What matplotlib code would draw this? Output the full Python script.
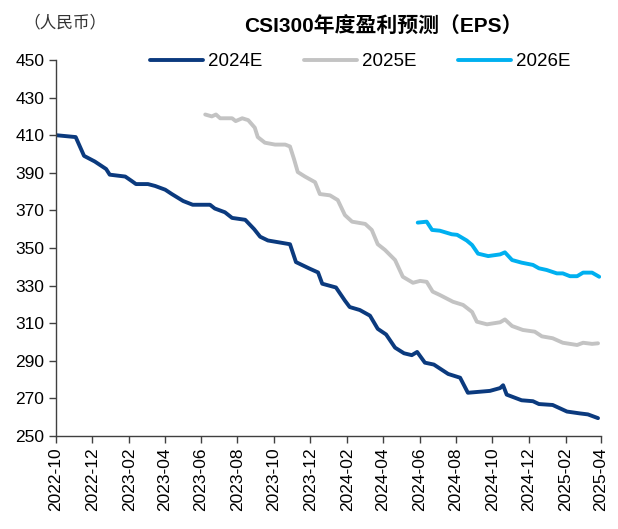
import matplotlib
matplotlib.use("Agg")
import matplotlib.pyplot as plt
import matplotlib.dates as mdates
import pandas as pd

plt.rcParams['font.family'] = ['Liberation Sans', 'Noto Sans CJK SC', 'DejaVu Sans']

# CSI300 consensus EPS forecasts (RMB)
dates_2024e = ["2022-10-01", "2022-11-03", "2022-11-17", "2022-12-05", "2022-12-24", "2022-12-30",
               "2023-01-25", "2023-02-05", "2023-02-12", "2023-03-04", "2023-03-16", "2023-04-02",
               "2023-04-13", "2023-05-02", "2023-05-18", "2023-06-16", "2023-06-24", "2023-07-11",
               "2023-07-23", "2023-08-14", "2023-08-29", "2023-09-08", "2023-09-21", "2023-10-28",
               "2023-11-07", "2023-11-30", "2023-12-14", "2023-12-21", "2024-01-13", "2024-01-28",
               "2024-02-05", "2024-02-22", "2024-03-10", "2024-03-23", "2024-04-06", "2024-04-21",
               "2024-05-06", "2024-05-19", "2024-05-28", "2024-06-10", "2024-06-25", "2024-07-19",
               "2024-08-08", "2024-08-21", "2024-09-27", "2024-10-14", "2024-10-19", "2024-10-25",
               "2024-11-19", "2024-12-08", "2024-12-18", "2025-01-10", "2025-02-03", "2025-02-25",
               "2025-03-10", "2025-03-27"]
eps_2024e = [410, 409, 399, 396, 392, 389,
             388, 385.6, 384, 384, 383, 381,
             378.7, 375, 373, 373, 371, 369,
             366, 365, 360, 356, 354, 352,
             342.5, 339, 337, 331, 329, 322,
             318.6, 317, 314, 307, 304, 297,
             294, 293, 294.7, 289, 288, 283,
             281, 273, 274, 275.5, 277, 272,
             269, 268.5, 267, 266.5, 263, 262,
             261.5, 259.5]

dates_2025e = ["2023-06-08", "2023-06-19", "2023-06-26", "2023-07-03", "2023-07-23", "2023-07-29",
               "2023-08-09", "2023-08-19", "2023-08-30", "2023-09-04", "2023-09-16", "2023-10-03",
               "2023-10-20", "2023-10-28", "2023-11-04", "2023-11-10", "2023-11-22", "2023-12-09",
               "2023-12-17", "2024-01-03", "2024-01-16", "2024-01-28", "2024-02-09", "2024-03-02",
               "2024-03-13", "2024-03-23", "2024-04-04", "2024-04-21", "2024-05-04", "2024-05-21",
               "2024-06-02", "2024-06-13", "2024-06-23", "2024-07-05", "2024-07-27", "2024-08-13",
               "2024-08-28", "2024-09-05", "2024-09-22", "2024-10-14", "2024-10-22", "2024-11-03",
               "2024-11-21", "2024-12-11", "2024-12-23", "2025-01-10", "2025-01-27", "2025-02-20",
               "2025-03-02", "2025-03-17", "2025-03-27"]
eps_2025e = [421, 420, 421, 419, 419, 417.5,
             419, 418, 414, 409, 406, 405,
             405, 404, 397, 390.4, 388, 385,
             378.7, 378, 375.5, 367.5, 364, 362.8,
             359.6, 352, 349, 343.6, 334.7, 331.5,
             332.5, 332, 326.8, 325, 321.4, 319.7,
             316, 310.8, 309.4, 310.5, 312, 308.5,
             306.4, 305.5, 303, 302, 299.6, 298.4,
             299.6, 299, 299.3]

dates_2026e = ["2024-05-29", "2024-06-13", "2024-06-22", "2024-07-05", "2024-07-25", "2024-08-03",
               "2024-08-19", "2024-08-28", "2024-09-07", "2024-09-24", "2024-10-14", "2024-10-22",
               "2024-11-03", "2024-11-19", "2024-12-08", "2024-12-18", "2024-12-31", "2025-01-17",
               "2025-01-27", "2025-02-08", "2025-02-20", "2025-03-02", "2025-03-17", "2025-03-29"]
eps_2026e = [363.5, 364, 359.6, 359.2, 357.3, 357,
             354, 351.6, 347, 345.7, 346.6, 347.7,
             343.6, 342.2, 341, 339.2, 338.3, 336.5,
             336.5, 335, 335, 336.9, 336.9, 334.7]

series = [
    ("2024E", dates_2024e, eps_2024e, "#0B3A7E"),
    ("2025E", dates_2025e, eps_2025e, "#C3C3C3"),
    ("2026E", dates_2026e, eps_2026e, "#00B0F0"),
]

fig = plt.figure(figsize=(6.18, 5.29), dpi=100)
ax = fig.add_axes([0.0906, 0.1758, 0.8819, 0.7108])

for name, d, v, c in series:
    ax.plot(pd.to_datetime(d), v, color=c, lw=2.8, label=name,
            solid_joinstyle='round', solid_capstyle='round')

ax.set_ylim(250, 450)
ax.set_yticks(range(250, 451, 20))
ax.set_xlim(pd.Timestamp("2022-10-01"), pd.Timestamp("2025-04-01"))
ax.xaxis.set_major_locator(mdates.MonthLocator(bymonth=[2, 4, 6, 8, 10, 12]))
ax.xaxis.set_major_formatter(mdates.DateFormatter("%Y-%m"))
plt.setp(ax.get_xticklabels(), rotation=90)

for s in ("top", "right"):
    ax.spines[s].set_visible(False)
for s in ("left", "bottom"):
    ax.spines[s].set_color("#404040")
    ax.spines[s].set_linewidth(1.0)
ax.tick_params(axis="both", direction="out", length=5, width=1, color="#404040",
               labelsize=12.5, labelcolor="black")

ax.legend(loc="center", bbox_to_anchor=(0.558, 0.995), ncol=3, frameon=False,
          fontsize=13.5, handlelength=2.83, handletextpad=0.27, columnspacing=2.2)

fig.text(0.620, 0.949, "CSI300年度盈利预测（EPS）", ha="center", va="center",
         fontsize=15, fontweight="bold")
fig.text(0.038, 0.957, "（人民币）", ha="left", va="center", fontsize=12, color="#333333",
         family=["Noto Sans CJK SC", "DejaVu Sans"])

fig.savefig("out.png", dpi=100)
